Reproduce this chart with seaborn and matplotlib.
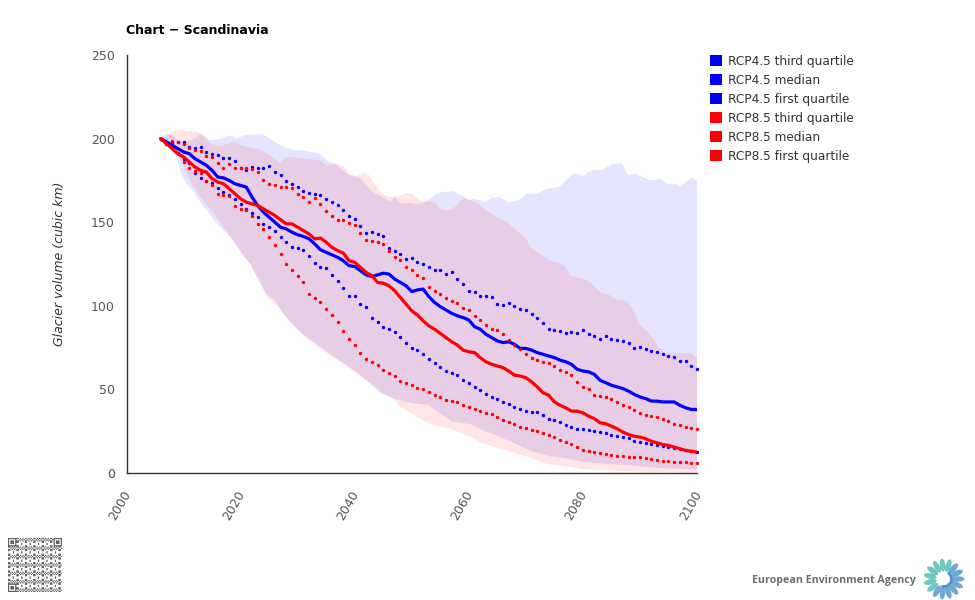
import numpy as np
import pandas as pd
import matplotlib
matplotlib.use('Agg')
import matplotlib.pyplot as plt
from matplotlib.patches import Patch, Ellipse, Arc
from matplotlib.transforms import ScaledTranslation
import seaborn as sns

years = list(range(2006, 2101))

rcp45_q3 = [200, 197.4, 198, 198, 198, 195, 194.5, 195, 192, 191,
            190, 188.6, 188.6, 186.6, 182.6, 181, 183, 182.4, 182.6, 183.4,
            180, 178.4, 174.6, 173, 171, 168.7, 167.3, 167, 166, 164,
            162, 160.5, 157, 154, 151.7, 147.7, 143.5, 144.3, 143, 142,
            134.6, 132.5, 131, 128, 128.6, 126.4, 124.8, 123, 121.4, 121.2,
            119.2, 120, 116.2, 113, 108.8, 108.4, 106, 106, 105.3, 101.3,
            100.7, 101.5, 99.9, 98.3, 97.3, 94.9, 92.5, 89.7, 86.3, 85.3,
            84.9, 83.5, 84.1, 83.9, 85.3, 83.3, 82.1, 80.1, 81.7, 80.1,
            79.4, 78.7, 77.9, 74.6, 75.2, 74, 73.1, 72.5, 71, 70.1,
            69.1, 67.2, 66.8, 64.2, 62]
rcp45_median = [200, 198, 196, 194, 192, 191, 188, 186, 184, 181,
                177, 176.5, 175, 173, 172, 171, 165, 160, 156, 153,
                150, 147, 146, 144, 142.5, 141.5, 140, 137, 133.5, 132,
                130.5, 129, 127, 124, 123.5, 121, 118.5, 117.5, 118.5, 119.5,
                119, 116, 114, 112, 108.5, 109.5, 110, 105.5, 102, 99.5,
                97.5, 95.5, 94, 93, 91.5, 87.5, 86, 83, 81, 79,
                78, 78.5, 77, 74.5, 74.5, 73.5, 72, 71, 70, 69,
                67.5, 66.5, 65, 62, 61, 60.5, 59, 55.5, 54, 52.5,
                51.5, 50.5, 49, 47, 45.5, 44.5, 43, 43, 42.5, 42.5,
                42.5, 40.5, 39, 38, 38]
rcp45_q1 = [200, 198, 196.2, 191.2, 187.8, 185.2, 179.2, 176.2, 174.8, 173.2,
            170.2, 168.2, 166.3, 163.7, 160.9, 157.7, 155.7, 153.3, 148.9, 147.3,
            144.9, 141.1, 138, 135, 134.8, 133.2, 129.6, 125.4, 123.2, 122.4,
            118.6, 115, 110.5, 106, 106, 101.3, 99.5, 92.5, 90.1, 87.3,
            86.3, 84.1, 81.2, 77.6, 74.9, 73.6, 71, 68.4, 65.6, 63.2,
            61, 59.8, 58.4, 55.4, 53.6, 51.6, 49.6, 47.2, 45.6, 44.3,
            42.3, 41.1, 39.7, 38.3, 37.1, 36.5, 36.3, 34.7, 32.5, 31.5,
            30.3, 28.7, 27.3, 26.3, 26.1, 25.5, 25.3, 24.7, 23.9, 22.7,
            22.1, 21.3, 20.7, 19.3, 18.7, 17.9, 17.3, 16.5, 16.1, 15.5,
            14.9, 14.3, 13.7, 13.1, 12.7]
rcp85_q3 = [200, 196.6, 198.8, 197.8, 196.6, 194.2, 193.2, 192.8, 189.4, 188.8,
            185.2, 182.2, 185, 182.6, 182.6, 182.4, 182, 180.2, 175, 172.7,
            172.2, 171, 171, 170.2, 166.9, 165.3, 162.3, 164.7, 160.9, 156.9,
            153.9, 151.5, 151.5, 149.7, 148.1, 143.3, 139.2, 138.8, 138, 136.8,
            132.8, 129.4, 127.4, 123.4, 121.2, 118.2, 116.4, 111.4, 108.8, 106.9,
            104.9, 103, 101.7, 98.7, 97.3, 94.1, 91.5, 88.3, 86.3, 85.5,
            83.3, 79.4, 76.6, 74, 71.2, 68.6, 67.6, 66.2, 65.6, 64,
            61.8, 60.2, 58.4, 54.2, 51.6, 50, 46.5, 46, 45.3, 44.3,
            42.3, 40.5, 39.3, 37.7, 36.1, 34.7, 33.9, 33.5, 32.5, 30.9,
            29.3, 28.5, 27.5, 26.7, 26.1]
rcp85_median = [200, 197, 194, 191, 189, 186, 183, 181, 180, 176,
                174, 173, 170, 167, 164, 162, 161, 160, 158, 156,
                154, 151.5, 149, 149, 147, 145, 143, 140, 140.5, 138,
                135, 133, 131.5, 127, 126, 123, 120, 118, 114, 113.5,
                112, 109, 105, 101, 97, 94.5, 91, 88, 86, 83.5,
                81, 78.5, 76.5, 73.5, 72.5, 72, 69, 66.5, 65, 64,
                63, 61, 58.5, 58, 57, 54.5, 51.5, 48, 46.5, 42.5,
                40.5, 39, 37, 37, 36, 34, 32.5, 30, 29.5, 28,
                26.5, 24.5, 23, 22, 21.5, 20.5, 19, 18, 17, 16.5,
                15.5, 14.5, 13.5, 13, 12.5]
rcp85_q1 = [200, 197, 194.2, 191.2, 186.2, 182.2, 180.8, 179.2, 174.8, 172.2,
            166.9, 166, 165.8, 159.5, 157.7, 157.1, 153.9, 148.7, 145.7, 141.3,
            136.2, 130.8, 125.2, 121.2, 117.6, 114, 107.2, 104.7, 102.5, 98,
            94.3, 90.1, 84.7, 80.1, 76.6, 71.8, 68.4, 66.6, 64.4, 61.6,
            59.6, 57.8, 55.2, 54, 52.4, 51, 50, 48.6, 46.7, 45.3,
            43.5, 43, 42.7, 40.9, 39.3, 38.3, 37.3, 36.1, 35.5, 33.5,
            31.9, 30.7, 29.5, 27.7, 26.9, 25.9, 24.9, 23.7, 22.7, 21.7,
            19.9, 18.7, 17.3, 15.5, 13.7, 13.3, 12.5, 11.9, 11.3, 10.7,
            10.3, 10, 9.6, 9.4, 9.4, 8.8, 8.4, 7.8, 7.4, 7,
            6.8, 6.6, 6.4, 6.2, 6]

# band outlines, read where the edge bends
rcp45_top_years = [2006, 2006.7, 2008.2, 2009, 2010.5, 2012, 2012.9, 2014.6, 2016.6, 2018.1, 2019.3, 2020.7, 2023.4, 2024, 2026.9, 2029.2, 2031.6, 2033.9, 2035.6, 2036.8, 2037.4, 2039, 2041, 2043, 2044.7, 2046.2, 2047, 2048.1, 2049.4, 2051, 2051.8, 2053, 2054.4, 2055.2, 2057.3, 2058.4, 2060, 2061.1, 2062.8, 2064.2, 2065.4, 2066.9, 2068.9, 2070.1, 2071.9, 2073.6, 2075.9, 2078, 2078.8, 2080, 2081.2, 2083.5, 2085, 2086.9, 2087.9, 2089.1, 2091.7, 2093.7, 2094.9, 2096.1, 2097, 2099, 2100]
rcp45_top = [200, 203, 202, 199, 198, 200, 202.7, 199, 200, 202, 200, 202, 202.7, 202.3, 196.2, 193.2, 192.6, 190.8, 185.6, 184.8, 182.2, 178.2, 176.2, 168.3, 165.3, 162.3, 165, 161.3, 161.7, 160.7, 161.9, 163.7, 167.3, 167.9, 168.7, 166.3, 163.3, 163.9, 161.9, 164.9, 164.9, 161.9, 163.3, 167.3, 166.9, 169.7, 171.3, 178.3, 179.3, 177.3, 180.7, 181.5, 184.7, 185.1, 178.1, 179.1, 175.1, 175.7, 172.7, 173.1, 171.3, 176.8, 174.8]
rcp45_low_years = [2006, 2007.6, 2008.8, 2009.6, 2010.5, 2012, 2013.1, 2014.3, 2015.8, 2017.2, 2018.4, 2019.4, 2020.4, 2021.6, 2022.8, 2024.5, 2026, 2027.4, 2029.2, 2031.2, 2031.8, 2033.6, 2035.6, 2038.5, 2040.3, 2042.3, 2044.7, 2046.1, 2047.9, 2050.2, 2052.9, 2054.9, 2057.2, 2060.2, 2062.5, 2065.4, 2068.3, 2071.2, 2074.2, 2077.1, 2080, 2084, 2088.8, 2094.6, 2100]
rcp45_low = [200, 195, 188.2, 179.2, 173.2, 167.3, 161.3, 156.3, 149.3, 144.3, 140.3, 135.4, 130.4, 125.4, 118.4, 107.4, 103.5, 95.5, 88.5, 82, 81, 76.5, 71.6, 64.6, 60.6, 54.6, 47.2, 45.6, 43.7, 41.7, 40.7, 35.7, 30.7, 29.3, 25.7, 21.7, 17.3, 12.7, 10.1, 8.7, 6.7, 5.4, 4.4, 2.8, 2.2]
rcp85_top_years = [2006, 2007, 2008, 2008.8, 2009.9, 2012.3, 2013.7, 2014.6, 2016.5, 2018.6, 2021, 2023.4, 2025.1, 2026.9, 2028, 2030.4, 2033.9, 2035.2, 2036.8, 2038, 2039.3, 2040.4, 2041.6, 2042.5, 2043.6, 2045, 2046.2, 2047.7, 2049.2, 2050, 2051, 2051.8, 2053.9, 2054.9, 2056.3, 2057.7, 2059, 2060, 2061.9, 2063, 2064.8, 2066.6, 2068.3, 2070, 2070.9, 2072.4, 2073.9, 2075.3, 2076.8, 2078, 2080, 2081.5, 2083, 2084.4, 2086.1, 2087.6, 2088.8, 2089.9, 2091.5, 2093.2, 2094.6, 2096.4, 2099, 2100]
rcp85_top = [200, 201, 204, 205.5, 205, 204, 202, 197, 195.5, 198, 195, 193.5, 190, 185.6, 189.2, 188.2, 187, 183.8, 184.8, 183.6, 178.2, 177.6, 179.6, 178.2, 172.3, 166.3, 165.3, 165.7, 167.7, 167.3, 164.3, 161.9, 162.3, 158.3, 156.7, 159.3, 164.3, 163.7, 160.3, 157.3, 153.3, 150.3, 145.3, 140.3, 134.7, 131.3, 127.4, 126, 124, 117.8, 116.4, 113.4, 108, 106.9, 103.5, 103.1, 97.5, 89, 84, 75.6, 71.6, 71.6, 71.6, 68.6]
rcp85_low_years = [2006, 2007.6, 2009.4, 2011.1, 2012.9, 2014.6, 2016.4, 2018.1, 2019.4, 2020.4, 2021.6, 2023.4, 2024.8, 2026.6, 2028.6, 2031, 2033.6, 2035.6, 2038.8, 2040.9, 2043.2, 2045, 2046.7, 2047.9, 2050.8, 2054, 2056.6, 2060.2, 2062.5, 2065.4, 2068.3, 2071.2, 2073.6, 2077.1, 2080, 2088.8, 2100]
rcp85_low = [200, 196, 188.2, 175.2, 165.3, 158.3, 150.3, 142, 136, 130.4, 125.4, 113.4, 104.4, 99.4, 90.5, 82.5, 75.5, 70.6, 63.6, 58, 52.7, 47.7, 44.7, 40, 33.7, 28.1, 26.7, 21.7, 17.7, 14.7, 11.7, 8.7, 5.4, 3.8, 2.4, 0.8, 0.3]

labels = ['RCP4.5 third quartile', 'RCP4.5 median', 'RCP4.5 first quartile',
          'RCP8.5 third quartile', 'RCP8.5 median', 'RCP8.5 first quartile']
colors = ['#0000ff', '#0000ff', '#0000ff', '#ff0000', '#ff0000', '#ff0000']
values = [rcp45_q3, rcp45_median, rcp45_q1, rcp85_q3, rcp85_median, rcp85_q1]

df = pd.DataFrame({label: vals for label, vals in zip(labels, values)}, index=years)
df.index.name = 'year'
df = df.reset_index().melt(id_vars='year', var_name='series', value_name='volume')

sns.set_theme(style='white')
plt.rcParams['font.family'] = ['DejaVu Sans']

W, H = 975, 600
fig = plt.figure(figsize=(W / 100, H / 100), dpi=100)
ax = fig.add_axes([126.5 / W, 1 - 473 / H, (697 - 126.5) / W, (473 - 55) / H])

# the two ranges sit behind everything
ax.fill(rcp45_top_years + rcp45_low_years[::-1], rcp45_top + rcp45_low[::-1],
        color='#0000ff', alpha=0.1, lw=0, zorder=1)
ax.fill(rcp85_top_years + rcp85_low_years[::-1], rcp85_top + rcp85_low[::-1],
        color='#ff0000', alpha=0.1, lw=0, zorder=1)

for i, (label, color) in enumerate(zip(labels, colors)):
    sub = df[df['series'] == label]
    if 'median' in label:
        sns.lineplot(data=sub, x='year', y='volume', color=color, lw=2.3, ax=ax,
                     zorder=3 + i, legend=False, errorbar=None)
    else:
        sns.scatterplot(data=sub, x='year', y='volume', color=color, s=6, linewidth=0,
                        ax=ax, zorder=3 + i, legend=False, clip_on=False)

ax.set_xlim(2000, 2100)
ax.set_ylim(0, 250)
ax.set_xticks(range(2000, 2101, 20))
ax.set_yticks(range(0, 251, 50))
ax.set_xlabel('')
ax.set_ylabel('Glacier volume (cubic km)', fontsize=9, fontstyle='italic', color='#333333', labelpad=18)
ax.tick_params(axis='y', left=False, labelsize=9, labelcolor='#555555', pad=2.5)
ax.tick_params(axis='x', bottom=False, labelsize=9, labelcolor='#555555', pad=6)
shift = ScaledTranslation(-4 / 100, 1 / 100, fig.dpi_scale_trans)
for t in ax.get_xticklabels():
    t.set_rotation(60)
    t.set_ha('right')
    t.set_rotation_mode('anchor')
    t.set_transform(t.get_transform() + shift)
sns.despine(ax=ax)
for side in ['left', 'bottom']:
    ax.spines[side].set_color('#333333')
    ax.spines[side].set_linewidth(1)

fig.text(126 / W, 1 - 30 / H, 'Chart \u2212 Scandinavia', fontsize=9, fontweight='bold', color='black', va='center')

handles = [Patch(facecolor=c, edgecolor='none') for c in colors]
fig.legend(handles, labels, loc='upper left', bbox_to_anchor=(705 / W, 1 - 50 / H), frameon=False,
           fontsize=8.7, handlelength=1.0, handleheight=1.0, handletextpad=0.5, labelspacing=0.5,
           labelcolor='#333333', borderpad=0.4, borderaxespad=0)

# footer: QR block and agency logo, drawn in pixel coordinates
overlay = fig.add_axes([0, 0, 1, 1], zorder=-1)
n = 45
rows, cols = np.mgrid[0:n, 0:n]
qr = (rows * rows * 3 + cols * cols * 5 + rows * cols * 7 + rows + 2 * cols) % 7 < 3
for r0, c0 in [(0, 0), (0, n - 7), (n - 7, 0)]:
    qr[r0:r0 + 7, c0:c0 + 7] = True
    qr[r0 + 1:r0 + 6, c0 + 1:c0 + 6] = False
    qr[r0 + 2:r0 + 5, c0 + 2:c0 + 5] = True
overlay.imshow(~qr, cmap='gray', vmin=-0.6, vmax=1, extent=(8, 62, 592, 538), interpolation='antialiased', aspect='auto')
overlay.set_xlim(0, W)
overlay.set_ylim(H, 0)
overlay.axis('off')

overlay.text(752, 580, 'European Environment Agency', fontsize=7.7, fontweight='bold', color='#6d6e70',
             fontfamily='Open Sans', va='center')
cx, cy = 944, 579
for ang in np.arange(0, 360, 24):
    rad = np.deg2rad(ang)
    col = '#6fc7bf' if 70 <= ang <= 235 else '#6fa8d0'
    overlay.add_patch(Ellipse((cx + 14 * np.cos(rad), cy - 14 * np.sin(rad)), 13, 5.5, angle=-ang, color=col, lw=0))
overlay.add_patch(Arc((cx, cy), 15, 15, theta1=-60, theta2=110, color='#4f93c6', lw=2))

fig.savefig('out.png', dpi=100)
